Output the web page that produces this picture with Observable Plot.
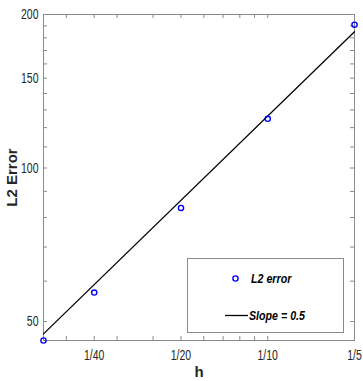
<!DOCTYPE html>
<html>
<head>
<meta charset="utf-8">
<script src="https://cdn.jsdelivr.net/npm/d3@7"></script>
<script src="https://cdn.jsdelivr.net/npm/@observablehq/plot@0.6"></script>
<style>
  html, body { margin: 0; padding: 0; background: #fff; }
  #wrap { position: relative; width: 363px; height: 381px; font-family: 'Liberation Sans', Arial, sans-serif; }
  #legend { position: absolute; left: 187px; top: 258px; width: 157px; height: 75px; box-sizing: border-box; border: 1px solid #8a8a8a; background: #fff; }
  .lg { position: absolute; font-weight: bold; font-style: italic; font-size: 13px; color: #000; line-height: 1; white-space: nowrap; transform: scaleX(0.82); transform-origin: 0 50%; }
</style>
</head>
<body>
<div id="wrap"></div>
<script>
// ---- data ----
const hVals = [1/60, 1/40, 1/20, 1/10, 1/5];
const errVals = [45.9, 57.0, 83.5, 124.9, 191];
const lineH = [1/60, 1/5];
const lineErr = [47.3, 185];
const xTicks = [1/40, 1/20, 1/10, 1/5];
const xTickLabels = ["1/40", "1/20", "1/10", "1/5"];
const xMinor = [0.02, 0.03, 0.04, 0.06, 0.07, 0.08, 0.09];
const yTicks = [50, 100, 150, 200];
const yTickLabels = ["50", "100", "150", "200"];
const yMinor = [60, 70, 80, 90, 110, 120, 130, 140, 160, 170, 180, 190];
const legendLabels = ["L2 error", "Slope = 0.5"];

const W = 363, H = 381;
const mL = 43, mR = 9, mT = 14, mB = 41;
const fw = W - mL - mR, fh = H - mT - mB;
const tl = 4; // inward tick length
const gray = "#8a8a8a";
const txt = "#262626";

const pts = hVals.map((h, i) => ({h, e: errVals[i]}));
const line = lineH.map((h, i) => ({h, e: lineErr[i]}));
const xAllTicks = xTicks.concat(xMinor);
const yAllTicks = yTicks.concat(yMinor);

const chart = Plot.plot({
  width: W, height: H,
  marginLeft: mL, marginRight: mR, marginTop: mT, marginBottom: mB,
  style: {background: "#fff", color: txt, fontFamily: "'Liberation Sans', Arial, sans-serif"},
  x: {type: "log", domain: [1/60, 1/5], axis: null},
  y: {type: "log", domain: [45.9, 200], axis: null},
  marks: [
    Plot.frame({stroke: gray, strokeWidth: 1}),
    // inward ticks on all four sides
    Plot.tickX(xAllTicks, {x: d => d, insetTop: fh - tl, stroke: gray}),
    Plot.tickX(xAllTicks, {x: d => d, insetBottom: fh - tl, stroke: gray}),
    Plot.tickY(yAllTicks, {y: d => d, insetRight: fw - tl, stroke: gray}),
    Plot.tickY(yAllTicks, {y: d => d, insetLeft: fw - tl, stroke: gray}),
    // tick labels
    Plot.text(xTicks, {x: d => d, frameAnchor: "bottom", dy: 15, lineAnchor: "middle", textAnchor: "middle",
      text: (d, i) => xTickLabels[i], fontSize: 14, fill: txt, className: "tlx"}),
    Plot.text(yTicks, {y: d => d, frameAnchor: "left", dx: -5, textAnchor: "end", lineAnchor: "middle",
      text: (d, i) => yTickLabels[i], fontSize: 14, fill: txt, className: "tly"}),
    // axis titles
    Plot.text(["h"], {frameAnchor: "bottom", dy: 32, lineAnchor: "middle", textAnchor: "middle", text: d => d,
      fontWeight: "bold", fontSize: 15, fill: txt}),
    Plot.text(["L2 Error"], {frameAnchor: "left", dx: -31, rotate: -90, textAnchor: "middle", lineAnchor: "middle",
      text: d => d, fontWeight: "bold", fontSize: 15, fill: txt}),
    Plot.line(line, {x: "h", y: "e", stroke: "#000", strokeWidth: 1.3}),
    Plot.dot(pts, {x: "h", y: "e", r: 2.6, stroke: "#0000ff", strokeWidth: 1.4, fill: "none"})
  ]
});

// condense tick label glyphs horizontally (narrow Helvetica look)
function condense(cls, s) {
  d3.select(chart).selectAll("." + cls + " text").each(function() {
    const el = this;
    const tr = el.getAttribute("transform");
    if (tr) {
      el.setAttribute("transform", tr + ` scale(${s},1)`);
    } else {
      const x = +(el.getAttribute("x") || 0), y = +(el.getAttribute("y") || 0);
      el.removeAttribute("x"); el.removeAttribute("y");
      el.setAttribute("transform", `translate(${x},${y}) scale(${s},1)`);
    }
  });
}
condense("tlx", 0.75);
condense("tly", 0.75);

const wrap = document.getElementById("wrap");
wrap.appendChild(chart);

// legend overlay
const lg = document.createElement("div");
lg.id = "legend";
lg.innerHTML = `
  <svg width="155" height="73" style="position:absolute;left:0;top:0">
    <circle cx="47.5" cy="19.5" r="2.6" fill="none" stroke="#0000ff" stroke-width="1.4"></circle>
    <line x1="37" x2="60" y1="56.5" y2="56.5" stroke="#000" stroke-width="1.3"></line>
  </svg>
  <div class="lg" style="left:63px;top:13px">${legendLabels[0]}</div>
  <div class="lg" style="left:61px;top:50px">${legendLabels[1]}</div>`;
wrap.appendChild(lg);
</script>
</body>
</html>
